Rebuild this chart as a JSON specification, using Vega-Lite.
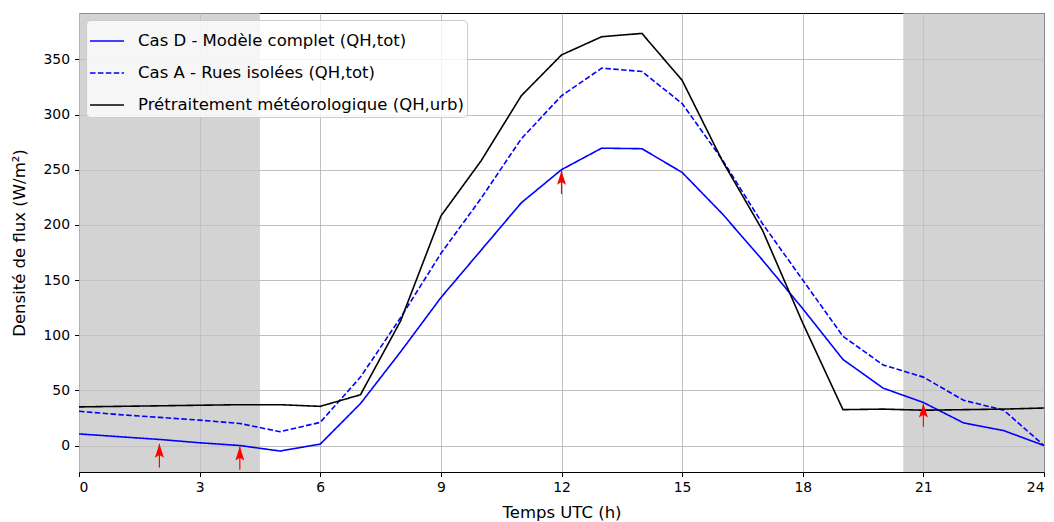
{
  "$schema": "https://vega.github.io/schema/vega-lite/v6.json",
  "width": 965,
  "height": 459,
  "autosize": {"type": "none"},
  "padding": {"left": 79, "top": 13, "right": 10, "bottom": 50},
  "background": "white",
  "config": {
    "font": "DejaVu Sans",
    "view": {"stroke": "black", "strokeWidth": 1},
    "axis": {
      "labelFontSize": 13.9,
      "titleFontSize": 16.5,
      "labelColor": "black",
      "titleColor": "black",
      "titleFontWeight": "normal",
      "tickColor": "black",
      "tickSize": 4.5,
      "labelPadding": 4,
      "domain": false,
      "gridColor": "#b0b0b0",
      "gridWidth": 0.8
    },
    "legend": {
      "labelFontSize": 16.5,
      "labelColor": "black"
    }
  },
  "datasets": {
    "series": [
      {"h": 0, "s": "D", "v": 10.5}, {"h": 1, "s": "D", "v": 8}, {"h": 2, "s": "D", "v": 5.5}, {"h": 3, "s": "D", "v": 2.5}, {"h": 4, "s": "D", "v": 0}, {"h": 5, "s": "D", "v": -5}, {"h": 6, "s": "D", "v": 1.3}, {"h": 7, "s": "D", "v": 38}, {"h": 8, "s": "D", "v": 85}, {"h": 9, "s": "D", "v": 134}, {"h": 10, "s": "D", "v": 177}, {"h": 11, "s": "D", "v": 220}, {"h": 12, "s": "D", "v": 250}, {"h": 13, "s": "D", "v": 269.5}, {"h": 14, "s": "D", "v": 269}, {"h": 15, "s": "D", "v": 247.5}, {"h": 16, "s": "D", "v": 210}, {"h": 17, "s": "D", "v": 168}, {"h": 18, "s": "D", "v": 124}, {"h": 19, "s": "D", "v": 78}, {"h": 20, "s": "D", "v": 52}, {"h": 21, "s": "D", "v": 39}, {"h": 22, "s": "D", "v": 20.5}, {"h": 23, "s": "D", "v": 13.5}, {"h": 24, "s": "D", "v": 0},
      {"h": 0, "s": "A", "v": 31}, {"h": 1, "s": "A", "v": 28}, {"h": 2, "s": "A", "v": 25.5}, {"h": 3, "s": "A", "v": 23}, {"h": 4, "s": "A", "v": 20}, {"h": 5, "s": "A", "v": 12.5}, {"h": 6, "s": "A", "v": 21}, {"h": 7, "s": "A", "v": 62}, {"h": 8, "s": "A", "v": 116}, {"h": 9, "s": "A", "v": 174}, {"h": 10, "s": "A", "v": 224}, {"h": 11, "s": "A", "v": 278}, {"h": 12, "s": "A", "v": 317}, {"h": 13, "s": "A", "v": 342}, {"h": 14, "s": "A", "v": 339}, {"h": 15, "s": "A", "v": 310}, {"h": 16, "s": "A", "v": 259}, {"h": 17, "s": "A", "v": 201}, {"h": 18, "s": "A", "v": 150}, {"h": 19, "s": "A", "v": 99}, {"h": 20, "s": "A", "v": 73}, {"h": 21, "s": "A", "v": 62}, {"h": 22, "s": "A", "v": 41}, {"h": 23, "s": "A", "v": 32}, {"h": 24, "s": "A", "v": 0},
      {"h": 0, "s": "P", "v": 35}, {"h": 1, "s": "P", "v": 35.5}, {"h": 2, "s": "P", "v": 36}, {"h": 3, "s": "P", "v": 36.5}, {"h": 4, "s": "P", "v": 37}, {"h": 5, "s": "P", "v": 37}, {"h": 6, "s": "P", "v": 35.5}, {"h": 7, "s": "P", "v": 46}, {"h": 8, "s": "P", "v": 113}, {"h": 9, "s": "P", "v": 208}, {"h": 10, "s": "P", "v": 258}, {"h": 11, "s": "P", "v": 317}, {"h": 12, "s": "P", "v": 354}, {"h": 13, "s": "P", "v": 370.5}, {"h": 14, "s": "P", "v": 373.5}, {"h": 15, "s": "P", "v": 331}, {"h": 16, "s": "P", "v": 258}, {"h": 17, "s": "P", "v": 195}, {"h": 18, "s": "P", "v": 111}, {"h": 19, "s": "P", "v": 32.5}, {"h": 20, "s": "P", "v": 33}, {"h": 21, "s": "P", "v": 32}, {"h": 22, "s": "P", "v": 32.5}, {"h": 23, "s": "P", "v": 33}, {"h": 24, "s": "P", "v": 34}
    ],
    "names": [
      {"s": "D", "label": "Cas D - Modèle complet (QH,tot)"},
      {"s": "A", "label": "Cas A - Rues isolées (QH,tot)"},
      {"s": "P", "label": "Prétraitement météorologique (QH,urb)"}
    ],
    "night": [
      {"start": 0, "end": 4.5},
      {"start": 20.5, "end": 24}
    ],
    "arrows": [
      {"h": 2, "tip": 1.5, "tail": -20},
      {"h": 4, "tip": -1, "tail": -22},
      {"h": 12, "tip": 249, "tail": 228},
      {"h": 21, "tip": 38, "tail": 17}
    ]
  },
  "layer": [
    {
      "data": {"name": "night"},
      "mark": {"type": "rect", "fill": "rgb(195,195,195)", "opacity": 0.734},
      "encoding": {
        "x": {"field": "start", "type": "quantitative"},
        "x2": {"field": "end"}
      }
    },
    {
      "data": {"name": "series"},
      "transform": [
        {"lookup": "s", "from": {"data": {"name": "names"}, "key": "s", "fields": ["label"]}}
      ],
      "mark": {"type": "line", "strokeWidth": 1.6, "clip": true},
      "encoding": {
        "x": {
          "field": "h", "type": "quantitative",
          "scale": {"domain": [0, 24], "nice": false, "zero": false},
          "axis": {"title": "Temps UTC (h)", "values": [0, 3, 6, 9, 12, 15, 18, 21, 24], "titlePadding": 10}
        },
        "y": {
          "field": "v", "type": "quantitative",
          "scale": {"domain": [-24, 392], "nice": false, "zero": false},
          "axis": {"title": "Densité de flux (W/m²)", "values": [0, 50, 100, 150, 200, 250, 300, 350], "titlePadding": 15, "labelPadding": 5}
        },
        "color": {
          "field": "label", "type": "nominal",
          "scale": {
            "domain": ["Cas D - Modèle complet (QH,tot)", "Cas A - Rues isolées (QH,tot)", "Prétraitement météorologique (QH,urb)"],
            "range": ["#0000ff", "#0000ff", "#000000"]
          },
          "legend": {
            "title": null,
            "orient": "top-left",
            "offset": 7,
            "fillColor": "rgba(255,255,255,0.8)",
            "strokeColor": "#cccccc",
            "cornerRadius": 4,
            "padding": 3,
            "symbolType": "stroke",
            "symbolSize": 1150,
            "symbolStrokeWidth": 1.6,
            "labelOffset": 13,
            "rowPadding": 5,
            "labelLimit": 400
          }
        },
        "strokeDash": {
          "field": "label", "type": "nominal",
          "scale": {
            "domain": ["Cas D - Modèle complet (QH,tot)", "Cas A - Rues isolées (QH,tot)", "Prétraitement météorologique (QH,urb)"],
            "range": [[1, 0], [5.5, 2.4], [1, 0]]
          },
          "legend": {
            "title": null,
            "orient": "top-left",
            "offset": 7,
            "fillColor": "rgba(255,255,255,0.8)",
            "strokeColor": "#cccccc",
            "cornerRadius": 4,
            "padding": 3,
            "symbolType": "stroke",
            "symbolSize": 1150,
            "symbolStrokeWidth": 1.6,
            "labelOffset": 13,
            "rowPadding": 5,
            "labelLimit": 400
          }
        }
      }
    },
    {
      "data": {"name": "arrows"},
      "mark": {"type": "rule", "color": "#ff0000", "strokeWidth": 1.2},
      "encoding": {
        "x": {"field": "h", "type": "quantitative"},
        "y": {"field": "tail", "type": "quantitative"},
        "y2": {"field": "tip"}
      }
    },
    {
      "data": {"name": "arrows"},
      "mark": {"type": "point", "shape": "M0,0L-0.64,2L0,1.6L0.64,2Z", "filled": true, "color": "#ff0000", "opacity": 1, "size": 196, "strokeWidth": 0},
      "encoding": {
        "x": {"field": "h", "type": "quantitative"},
        "y": {"field": "tip", "type": "quantitative"}
      }
    }
  ]
}
